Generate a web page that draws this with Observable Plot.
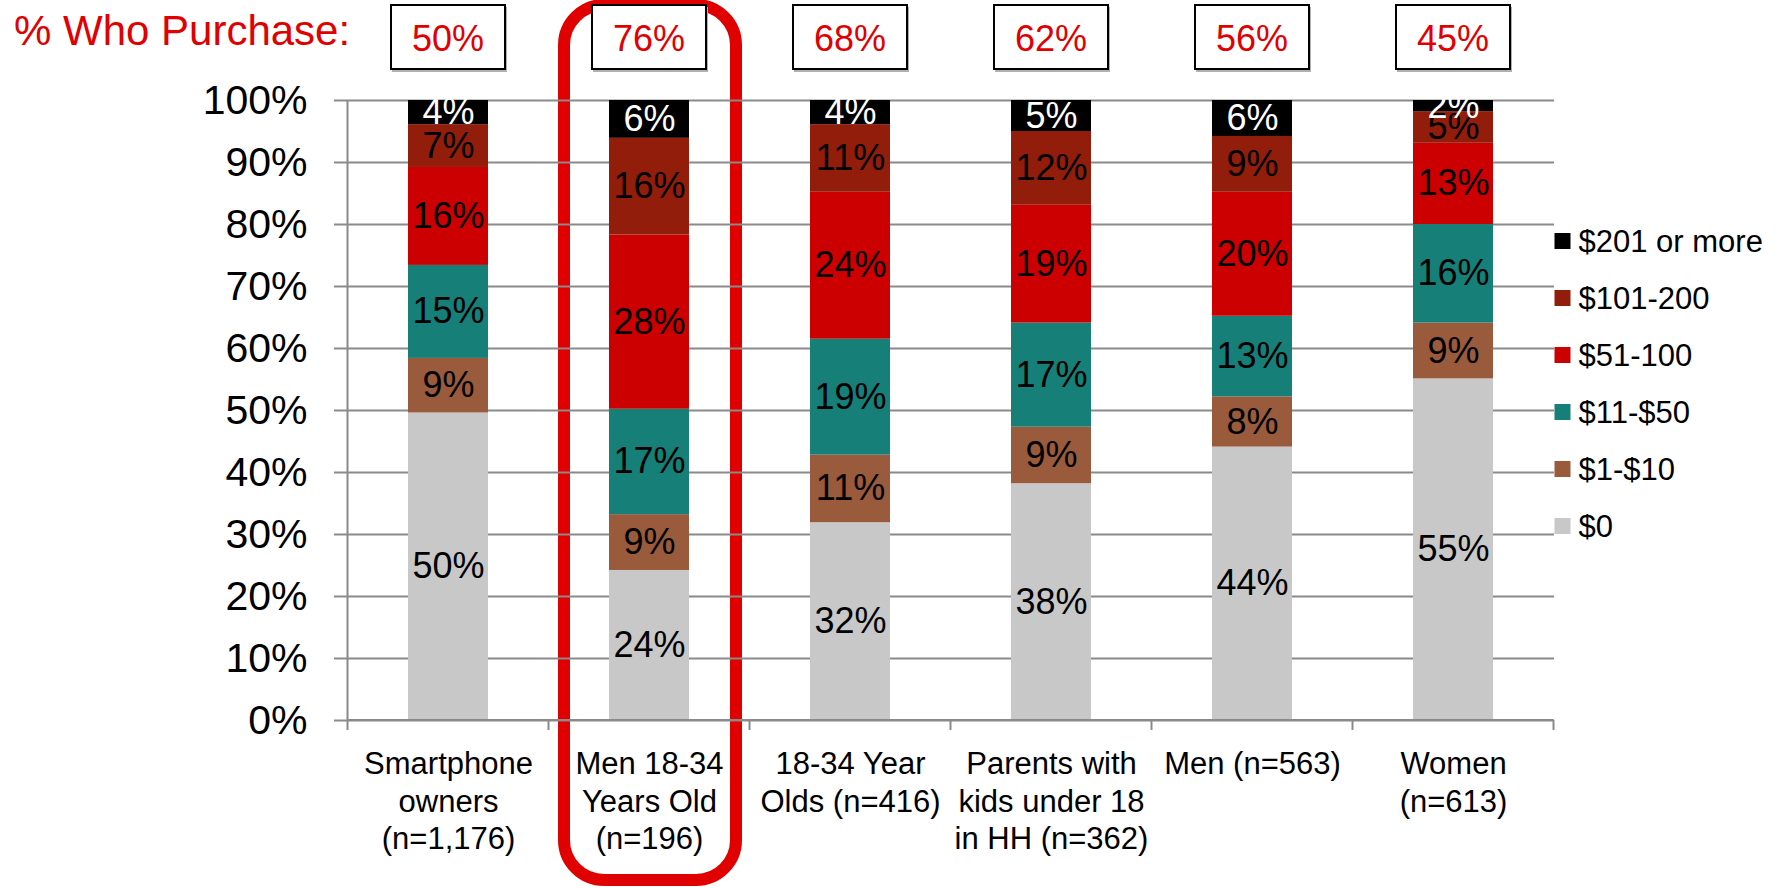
<!DOCTYPE html>
<html>
<head>
<meta charset="utf-8">
<script src="https://cdn.jsdelivr.net/npm/d3@7"></script>
<script src="https://cdn.jsdelivr.net/npm/@observablehq/plot@0.6"></script>
<style>
  html, body { margin: 0; padding: 0; background: #fff; }
  #chart { position: relative; width: 1783px; height: 888px; overflow: hidden; }
  svg { display: block; }
</style>
</head>
<body>
<div id="chart"></div>
<script>
// ---- Data ----
const categories = [
  "Smartphone\nowners\n(n=1,176)",
  "Men 18-34\nYears Old\n(n=196)",
  "18-34 Year\nOlds (n=416)",
  "Parents with\nkids under 18\nin HH (n=362)",
  "Men (n=563)",
  "Women\n(n=613)"
];
const series = ["$0", "$1-$10", "$11-$50", "$51-100", "$101-200", "$201 or more"];
const seriesColors = ["#c8c8c8", "#9a5a3c", "#167f77", "#cc0000", "#921d0b", "#000000"];
const legendOrder = ["$201 or more", "$101-200", "$51-100", "$11-$50", "$1-$10", "$0"];

const vZero     = [49.6, 24.2, 31.9, 38.2, 44.1, 55.1];
const v1to10    = [ 8.8,  9.0, 10.9,  9.1,  8.1,  9.0];
const v11to50   = [15.0, 17.0, 18.7, 16.8, 13.0, 15.9];
const v51to100  = [15.8, 28.1, 23.7, 19.0, 20.0, 13.1];
const v101to200 = [ 6.9, 15.6, 10.9, 11.9,  9.0,  5.1];
const v201plus  = [ 3.9,  6.1,  3.9,  5.0,  5.8,  1.8];
const seriesValues = [vZero, v1to10, v11to50, v51to100, v101to200, v201plus];

const purchasePct = [50, 76, 68, 62, 56, 45];
const highlightedCategory = categories[1];
const yTicks = [0, 10, 20, 30, 40, 50, 60, 70, 80, 90, 100];

// Build tidy table
const data = [];
categories.forEach((c, i) => {
  series.forEach((s, j) => data.push({cat: c, series: s, value: seriesValues[j][i]}));
});

const FONT = "'Liberation Sans', Arial, Helvetica, sans-serif";
const GRID = "#8a8a8a";
const RED = "#e00000";

const labelOpts = {x: "cat", y: "value", text: d => Math.round(d.value) + "%", fontSize: 36};

const plot = Plot.plot({
  width: 1783,
  height: 888,
  marginLeft: 347,
  marginRight: 229,
  marginTop: 100,
  marginBottom: 168,
  style: {fontFamily: FONT, background: "transparent", overflow: "visible"},
  x: {domain: categories, paddingInner: 0.6, paddingOuter: 0.3, axis: null},
  y: {domain: [0, 100]},
  color: {domain: series, range: seriesColors},
  marks: [
    Plot.gridY(yTicks, {stroke: GRID, strokeOpacity: 1, strokeWidth: 2}),
    Plot.axisY(yTicks, {
      tickSize: 13, tickPadding: 27, tickFormat: d => d + "%",
      fontSize: 41, stroke: GRID, strokeWidth: 2, fill: "black", label: null
    }),
    Plot.barY(data, {x: "cat", y: "value", fill: "series"}),
    Plot.text(data, Plot.filter(d => d.series !== "$201 or more",
      Plot.stackY({...labelOpts, fill: "black"}))),
    Plot.text(data, Plot.filter(d => d.series === "$201 or more",
      Plot.stackY({...labelOpts, fill: "white"}))),
    Plot.text(categories, {
      x: d => d, text: d => d, frameAnchor: "bottom", lineAnchor: "top",
      dy: 27, fontSize: 31, lineHeight: 1.21, fill: "black"
    })
  ]
});

document.getElementById("chart").appendChild(plot);

// ---- Decorations using the plot's own scales ----
const xs = plot.scale("x");
const ys = plot.scale("y");
const step = xs.step, bw = xs.bandwidth;
const gap = (step - bw) / 2;
const svg = d3.select(plot);
const y0 = ys.apply(0), y100 = ys.apply(100);
const left = xs.apply(categories[0]) - gap;
const right = xs.apply(categories[categories.length - 1]) + bw + gap;

// highlight rounded rectangle (behind)
const hc = xs.apply(highlightedCategory) + bw / 2;
svg.insert("rect", ":first-child")
  .attr("x", hc - 85).attr("y", 5)
  .attr("width", 172).attr("height", 875)
  .attr("rx", 40).attr("ry", 40)
  .attr("fill", "none").attr("stroke", RED).attr("stroke-width", 12);

// y axis line
svg.append("line").attr("x1", left).attr("x2", left).attr("y1", y100).attr("y2", y0)
  .attr("stroke", GRID).attr("stroke-width", 2);
// x axis line and category boundary ticks
svg.append("line").attr("x1", left).attr("x2", right).attr("y1", y0).attr("y2", y0)
  .attr("stroke", GRID).attr("stroke-width", 2);
const bounds = categories.map(c => xs.apply(c) - gap).concat([right]);
svg.append("g").selectAll("line").data(bounds).join("line")
  .attr("x1", d => d).attr("x2", d => d).attr("y1", y0).attr("y2", y0 + 10)
  .attr("stroke", GRID).attr("stroke-width", 2);

// header
svg.append("text").attr("x", 14).attr("y", 45).attr("text-anchor", "start")
  .attr("fill", RED).attr("font-size", 42).attr("font-family", FONT)
  .text("% Who Purchase:");

// purchase boxes
const boxes = svg.append("g");
categories.forEach((c, i) => {
  const cx = xs.apply(c) + bw / 2;
  boxes.append("rect").attr("x", cx - 56).attr("y", 7).attr("width", 115).attr("height", 65)
    .attr("fill", "#b0b0b0");
  boxes.append("rect").attr("x", cx - 57).attr("y", 5).attr("width", 114).attr("height", 64)
    .attr("fill", "white").attr("stroke", "black").attr("stroke-width", 2);
  boxes.append("text").attr("x", cx).attr("y", 51).attr("text-anchor", "middle")
    .attr("fill", RED).attr("font-size", 36).attr("font-family", FONT)
    .text(purchasePct[i] + "%");
});

// legend
const lg = svg.append("g");
legendOrder.forEach((s, i) => {
  const cy = 241 + i * 57;
  lg.append("rect").attr("x", right + 1).attr("y", cy - 8).attr("width", 16).attr("height", 16)
    .attr("fill", seriesColors[series.indexOf(s)]);
  lg.append("text").attr("x", right + 25).attr("y", cy).attr("dy", "0.35em")
    .attr("text-anchor", "start")
    .attr("fill", "black").attr("font-size", 31).attr("font-family", FONT)
    .text(s);
});
</script>
</body>
</html>
